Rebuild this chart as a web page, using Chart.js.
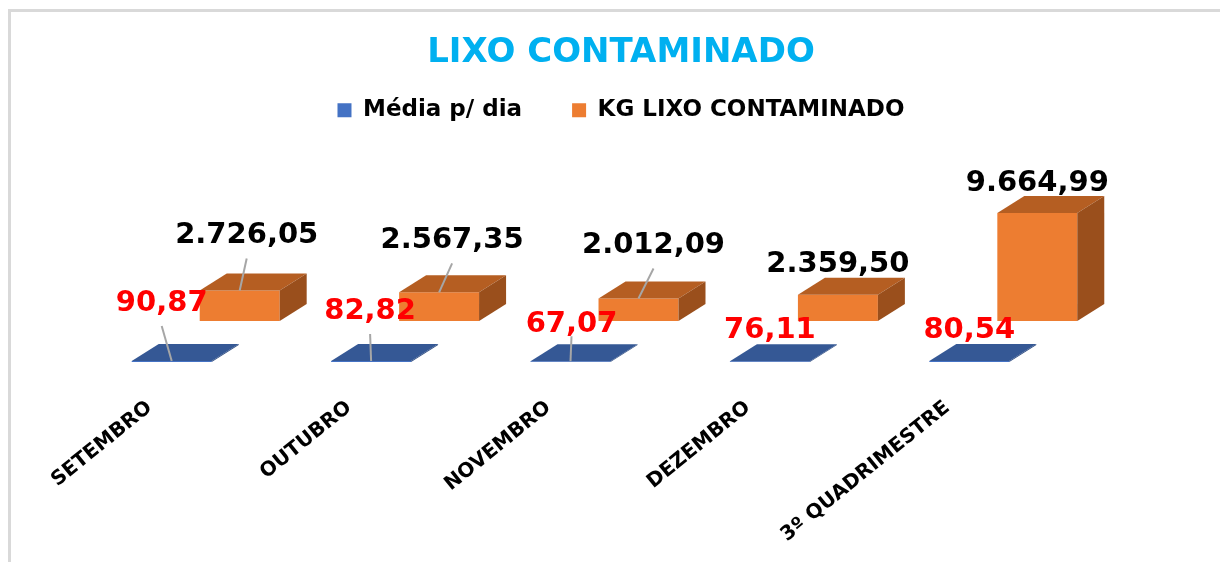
<!DOCTYPE html>
<html lang="pt-BR">
<head>
<meta charset="utf-8">
<title>LIXO CONTAMINADO</title>
<script src="https://cdn.jsdelivr.net/npm/chart.js@4/dist/chart.umd.min.js"></script>
<style>
  html, body { margin: 0; padding: 0; background: #ffffff; overflow: hidden; }
  #wrap { position: absolute; left: 0; top: 0; width: 1220px; height: 562px; }
</style>
</head>
<body>
<div id="wrap"><canvas id="chart" width="1220" height="562"></canvas></div>
<script>
// ---- data ----
const chartTitle = 'LIXO CONTAMINADO';
const categories = ['SETEMBRO', 'OUTUBRO', 'NOVEMBRO', 'DEZEMBRO', '3º QUADRIMESTRE'];
const seriesNames = ['Média p/ dia', 'KG LIXO CONTAMINADO'];
const mediaPorDia = [90.87, 82.82, 67.07, 76.11, 80.54];
const kgLixo = [2726.05, 2567.35, 2012.09, 2359.50, 9664.99];

// ---- style ----
const FONT = 'DejaVu Sans';
const DEPTH = { dx: 27, dy: -17 };              // 3D depth of each box
const ROW_SHIFT = [{ dx: 0, dy: 0 }, { dx: 68, dy: -41 }]; // series rows (front / back)
const FACES = [
  { front: '#4472C4', top: '#355895', side: '#2b4a80' },
  { front: '#ED7D31', top: '#B55E22', side: '#9A4F1C' }
];
const LABEL_COLORS = ['#FF0000', '#000000'];
// label nudges (dx, dy) relative to the top-front centre of each box
const LABEL_NUDGE = [
  [[-10, -58], [-1, -50], [1, -37], [0, -31], [0, -31]],
  [[7, -55], [13, -52], [15, -53], [0, -30], [0, -30]]
];

function fmtBR(v) {
  const parts = v.toFixed(2).split('.');
  parts[0] = parts[0].replace(/\B(?=(\d{3})+(?!\d))/g, '.');
  return parts[0] + ',' + parts[1];
}

const frame = {
  id: 'frame',
  beforeDraw(chart) {
    const ctx = chart.ctx;
    ctx.save();
    ctx.fillStyle = '#d9d9d9';
    ctx.fillRect(8, 9, chart.width - 8, 3);
    ctx.fillRect(8, 9, 3, chart.height - 9);
    ctx.restore();
  }
};

const box3d = {
  id: 'box3d',
  beforeDatasetDraw(chart, args) {
    const s = ROW_SHIFT[args.index];
    chart.ctx.save();
    chart.ctx.translate(s.dx, s.dy);
  },
  afterDatasetDraw(chart, args) {
    const ctx = chart.ctx;
    const f = FACES[args.index];
    args.meta.data.forEach(bar => {
      const p = bar.getProps(['x', 'y', 'base', 'width'], true);
      const l = p.x - p.width / 2, r = p.x + p.width / 2;
      ctx.fillStyle = f.top;
      ctx.beginPath();
      ctx.moveTo(l, p.y);
      ctx.lineTo(l + DEPTH.dx, p.y + DEPTH.dy);
      ctx.lineTo(r + DEPTH.dx, p.y + DEPTH.dy);
      ctx.lineTo(r, p.y);
      ctx.closePath();
      ctx.fill();
      ctx.fillStyle = f.side;
      ctx.beginPath();
      ctx.moveTo(r, p.y);
      ctx.lineTo(r + DEPTH.dx, p.y + DEPTH.dy);
      ctx.lineTo(r + DEPTH.dx, p.base + DEPTH.dy);
      ctx.lineTo(r, p.base);
      ctx.closePath();
      ctx.fill();
    });
    ctx.restore();
  }
};

const valueLabels = {
  id: 'valueLabels',
  afterDatasetsDraw(chart) {
    const ctx = chart.ctx;
    ctx.save();
    chart.data.datasets.forEach((ds, i) => {
      const meta = chart.getDatasetMeta(i);
      const s = ROW_SHIFT[i];
      meta.data.forEach((bar, j) => {
        const p = bar.getProps(['x', 'y'], true);
        const bx = p.x + s.dx, top = p.y + s.dy;
        const n = LABEL_NUDGE[i][j];
        const lx = bx + n[0], ly = top + n[1];
        if (n[1] < -34) {
          ctx.strokeStyle = '#A6A6A6';
          ctx.lineWidth = 2;
          ctx.beginPath();
          ctx.moveTo(lx, Math.min(ly + 23, top - 25));
          ctx.lineTo(bx, top);
          ctx.stroke();
        }
        ctx.font = 'bold 29px "' + FONT + '"';
        ctx.fillStyle = LABEL_COLORS[i];
        ctx.textAlign = 'center';
        ctx.textBaseline = 'middle';
        ctx.fillText(fmtBR(ds.data[j]), lx, ly);
      });
    });
    ctx.restore();
  }
};

const hiddenAxis = (pos, w) => ({
  type: 'linear', position: pos, display: true,
  grid: { display: false, drawTicks: false }, border: { display: false },
  ticks: { display: false },
  afterFit(axis) { axis.width = w; }
});

const yAxis = hiddenAxis('left', 50);
yAxis.min = 0;
yAxis.max = 20600;

new Chart(document.getElementById('chart'), {
  type: 'bar',
  data: {
    labels: categories,
    datasets: [
      { label: seriesNames[0], data: mediaPorDia, backgroundColor: FACES[0].front, borderWidth: 0,
        grouped: false, clip: false, categoryPercentage: 1, barPercentage: 0.401 },
      { label: seriesNames[1], data: kgLixo, backgroundColor: FACES[1].front, borderWidth: 0,
        grouped: false, clip: false, categoryPercentage: 1, barPercentage: 0.401 }
    ]
  },
  options: {
    responsive: false,
    animation: false,
    devicePixelRatio: 1,
    layout: { padding: { left: 22, right: 0, top: 0, bottom: 0 } },
    scales: {
      x: {
        grid: { display: false, drawTicks: false }, border: { display: false },
        ticks: { autoSkip: false, minRotation: 39, maxRotation: 39, padding: 34, labelOffset: -22,
                 color: '#000000', font: { family: FONT, weight: 'bold', size: 20 } },
        afterFit(axis) { axis.height = 200; }
      },
      y: yAxis,
      yRight: hiddenAxis('right', 151)
    },
    plugins: {
      title: { display: true, text: chartTitle, color: '#00B0F0',
               font: { family: FONT, weight: 'bold', size: 34 },
               padding: { top: 33, bottom: -25 } },
      legend: { display: true, position: 'top',
                labels: { boxWidth: 14, boxHeight: 14, padding: 50, color: '#000000',
                          font: { family: FONT, weight: 'bold', size: 23 } } },
      tooltip: { enabled: false }
    }
  },
  plugins: [frame, box3d, valueLabels]
});
</script>
</body>
</html>
